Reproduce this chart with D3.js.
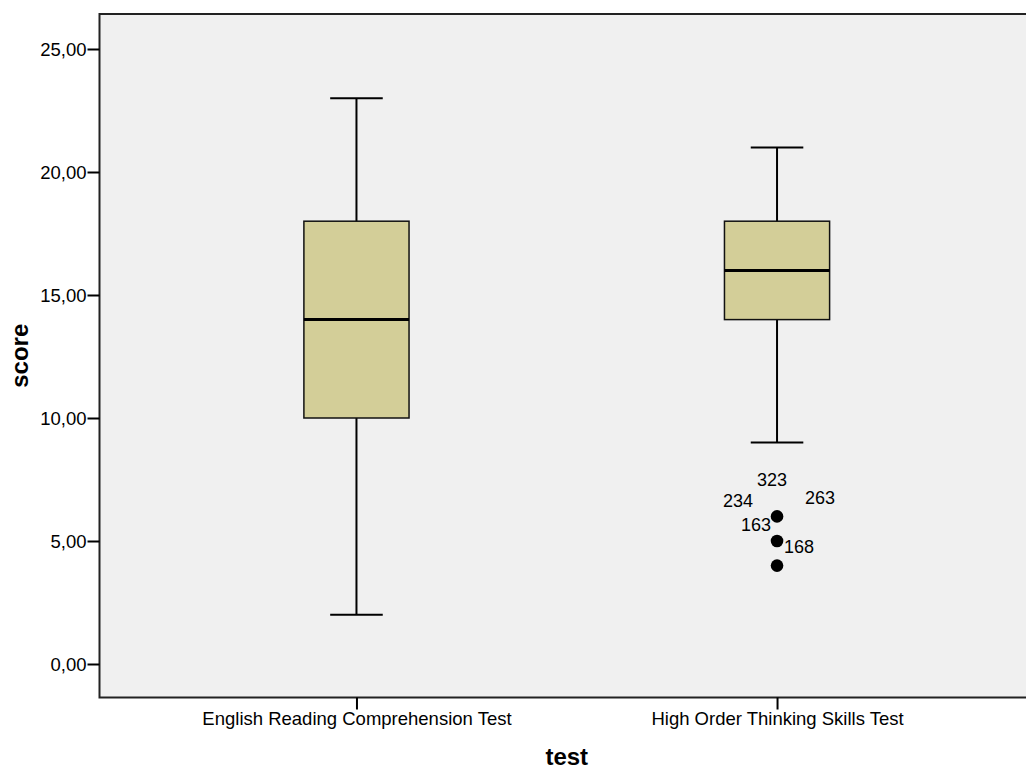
<!DOCTYPE html>
<html>
<head>
<meta charset="utf-8">
<script src="https://cdn.jsdelivr.net/npm/d3@7"></script>
<style>
  body { margin: 0; background: #fff; }
  text { font-family: "Liberation Sans", Arial, sans-serif; fill: #000; }
</style>
</head>
<body>
<svg id="chart" width="1026" height="767"></svg>
<script>
// ========== data ==========
var categories = ["English Reading Comprehension Test", "High Order Thinking Skills Test"];
var lowWhisker = [2, 9];
var q1 = [10, 14];
var median = [14, 16];
var q3 = [18, 18];
var highWhisker = [23, 21];
var outlierValues = [[], [6, 5, 4]];
var caseIds = ["323", "234", "263", "163", "168"];   // case labels of test 2 outliers
var caseValues = [6, 6, 6, 6, 5];
var yTicks = [0, 5, 10, 15, 20, 25];

var svg = d3.select("#chart");

var plot = { left: 99.5, top: 14, bottom: 697.5, right: 1034 };

var y = d3.scaleLinear()
    .domain([0, 25])
    .range([664, 49]);

var x = d3.scalePoint()
    .domain(categories)
    .range([plot.left, plot.right])
    .padding(0.611);

var boxW = x.step() * 0.25;

// ========== background / frame ==========
svg.append("rect")
    .attr("x", plot.left)
    .attr("y", plot.top)
    .attr("width", plot.right - plot.left)
    .attr("height", plot.bottom - plot.top)
    .attr("fill", "#f0f0f0")
    .attr("stroke", "#222")
    .attr("stroke-width", 2);

// ========== y axis ==========
var yAxis = svg.append("g")
    .attr("transform", "translate(" + plot.left + ",0)")
    .call(d3.axisLeft(y).tickValues(yTicks).tickSize(12).tickPadding(1)
        .tickFormat(function (d) { return d3.format(".2f")(d).replace(".", ","); }));
yAxis.select(".domain").remove();
yAxis.selectAll("line").attr("stroke", "#000").attr("stroke-width", 2);
yAxis.selectAll("text")
    .style("font-family", "'Liberation Sans', Arial, sans-serif")
    .style("font-size", "18.5px")
    .attr("fill", "#000")
    .attr("dy", "0.35em");

// ========== x axis ==========
var xAxis = svg.append("g")
    .attr("transform", "translate(0," + plot.bottom + ")")
    .call(d3.axisBottom(x).tickSize(12).tickPadding(2));
xAxis.select(".domain").remove();
xAxis.selectAll("line").attr("stroke", "#000").attr("stroke-width", 2);
xAxis.selectAll("text")
    .style("font-family", "'Liberation Sans', Arial, sans-serif")
    .style("font-size", "18.5px")
    .attr("fill", "#000");

// ========== axis titles ==========
svg.append("text")
    .attr("transform", "translate(28," + ((plot.top + plot.bottom) / 2) + ") rotate(-90)")
    .attr("text-anchor", "middle")
    .style("font-weight", "bold")
    .style("font-size", "24px")
    .text("score");

svg.append("text")
    .attr("x", x(categories[0]) + x.step() / 2)
    .attr("y", 765)
    .attr("text-anchor", "middle")
    .style("font-weight", "bold")
    .style("font-size", "24px")
    .text("test");

// ========== boxes ==========
var boxes = svg.append("g")
    .selectAll("g")
    .data(categories)
    .enter()
    .append("g");

boxes.append("line")
    .attr("x1", function (d) { return x(d); })
    .attr("x2", function (d) { return x(d); })
    .attr("y1", function (d, i) { return y(lowWhisker[i]); })
    .attr("y2", function (d, i) { return y(highWhisker[i]); })
    .attr("stroke", "#000").attr("stroke-width", 2);

boxes.selectAll(".cap")
    .data(function (d, i) { return [[d, lowWhisker[i]], [d, highWhisker[i]]]; })
    .enter()
    .append("line")
    .attr("x1", function (d) { return x(d[0]) - boxW / 4; })
    .attr("x2", function (d) { return x(d[0]) + boxW / 4; })
    .attr("y1", function (d) { return y(d[1]); })
    .attr("y2", function (d) { return y(d[1]); })
    .attr("stroke", "#000").attr("stroke-width", 2);

boxes.append("rect")
    .attr("x", function (d) { return x(d) - boxW / 2; })
    .attr("width", boxW)
    .attr("y", function (d, i) { return y(q3[i]); })
    .attr("height", function (d, i) { return y(q1[i]) - y(q3[i]); })
    .attr("fill", "#d3ce98")
    .attr("stroke", "#111").attr("stroke-width", 1.5);

boxes.append("line")
    .attr("x1", function (d) { return x(d) - boxW / 2; })
    .attr("x2", function (d) { return x(d) + boxW / 2; })
    .attr("y1", function (d, i) { return y(median[i]); })
    .attr("y2", function (d, i) { return y(median[i]); })
    .attr("stroke", "#000").attr("stroke-width", 3);

// ========== outliers ==========
var pts = [];
categories.forEach(function (c, i) {
    outlierValues[i].forEach(function (v) { pts.push({ cat: c, v: v }); });
});

svg.append("g")
    .selectAll("circle")
    .data(pts)
    .enter()
    .append("circle")
    .attr("cx", function (d) { return x(d.cat); })
    .attr("cy", function (d) { return y(d.v); })
    .attr("r", 6.3)
    .attr("fill", "#000");

// case ids scattered around their point, as SPSS does it
var labelOffsets = [[-5, -37], [-39, -16], [43, -19], [-21, 8], [22, 6]];

svg.append("g")
    .selectAll("text")
    .data(caseIds)
    .enter()
    .append("text")
    .attr("x", function (d, i) { return x(categories[1]) + labelOffsets[i][0]; })
    .attr("y", function (d, i) { return y(caseValues[i]) + labelOffsets[i][1]; })
    .attr("dy", "0.35em")
    .attr("text-anchor", "middle")
    .style("font-size", "18px")
    .text(function (d) { return d; });
</script>
</body>
</html>
